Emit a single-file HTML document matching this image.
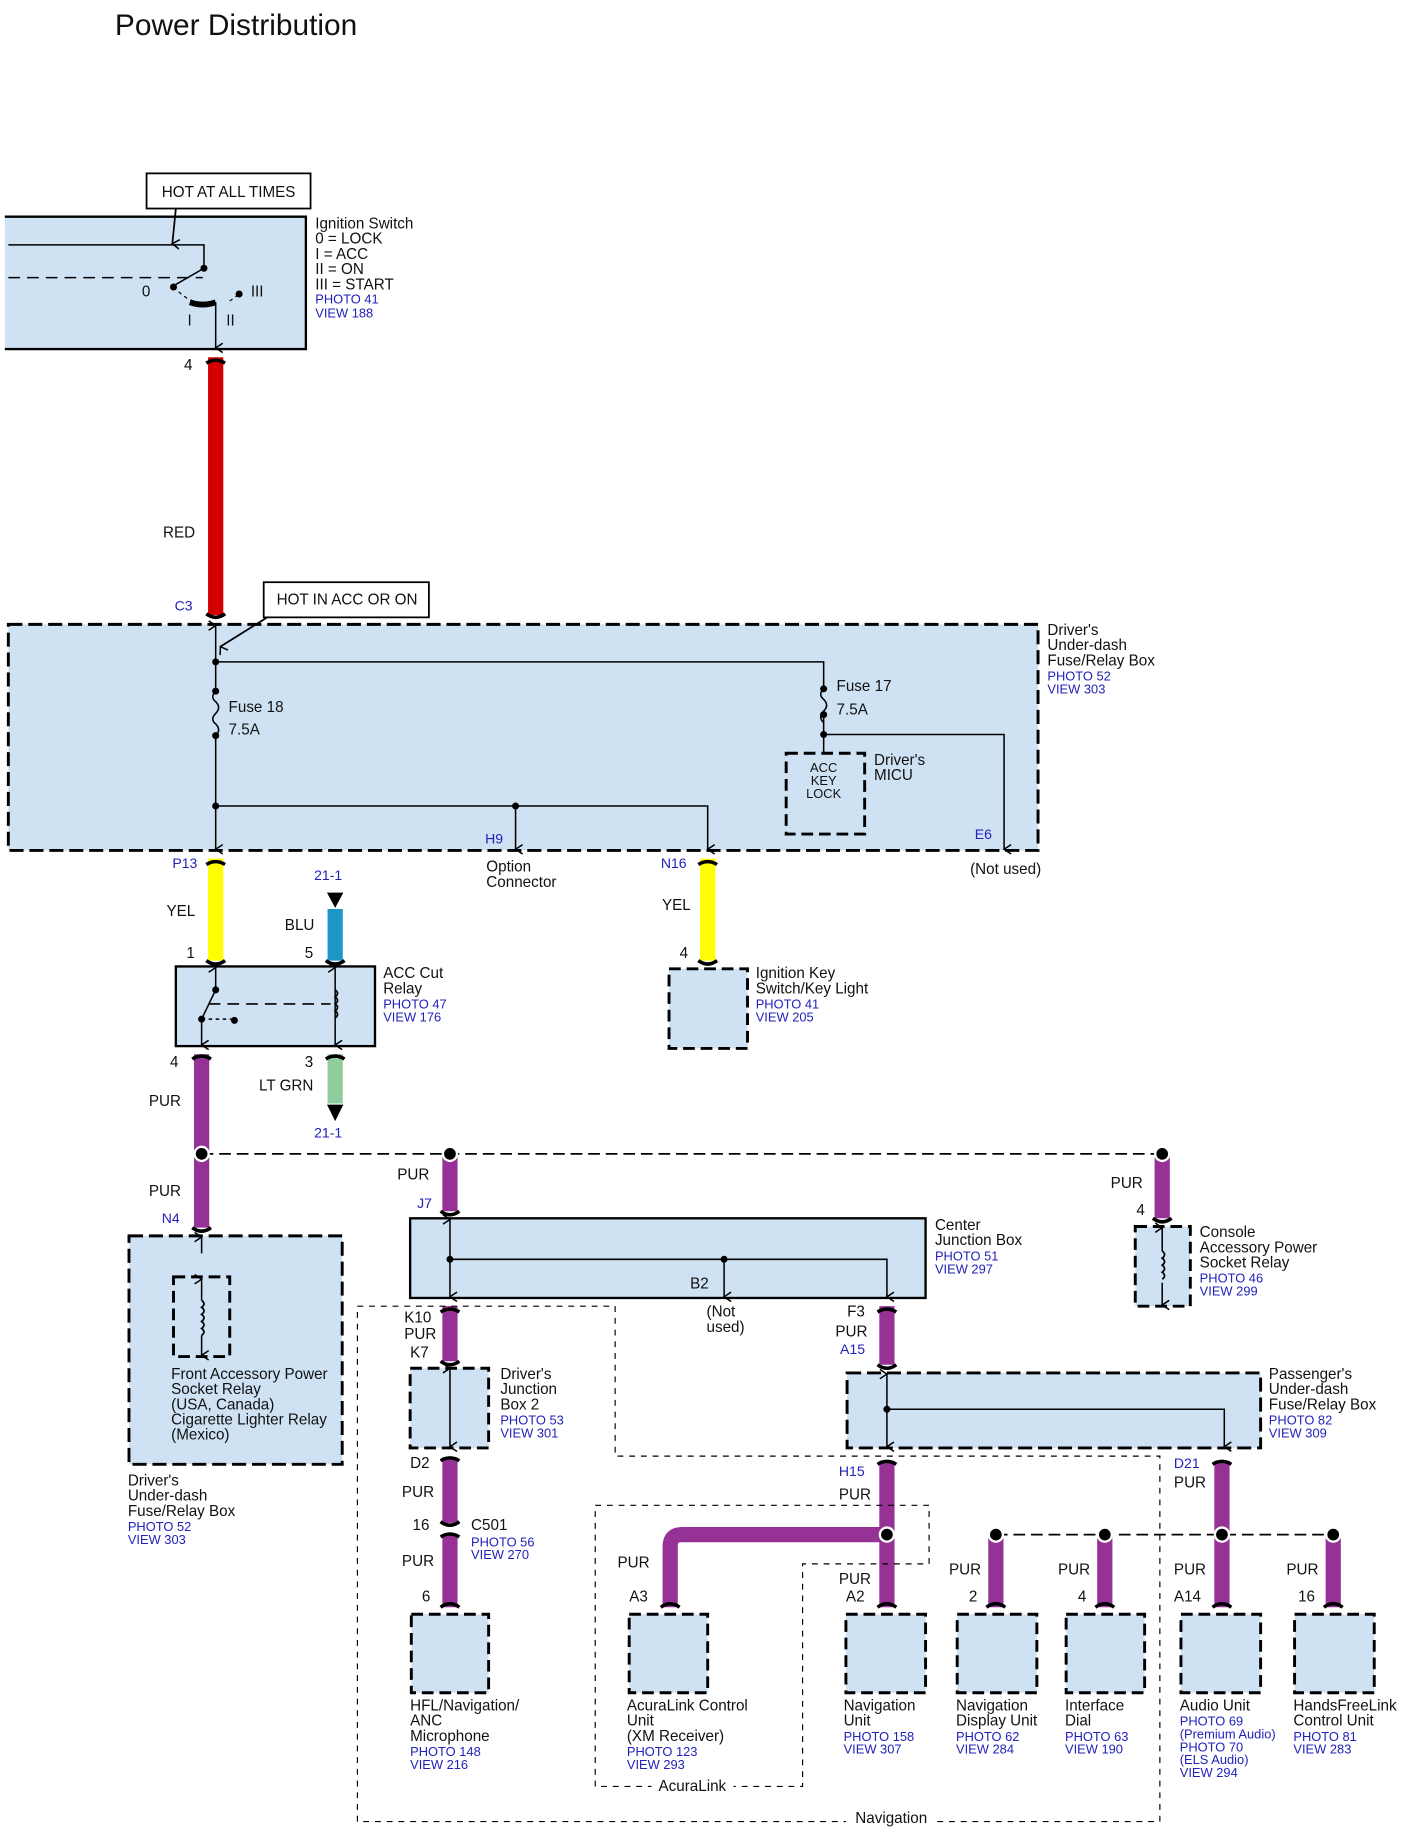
<!DOCTYPE html>
<html><head><meta charset="utf-8"><style>
html,body{margin:0;padding:0;background:#fff;}
svg{display:block}
text{font-family:"Liberation Sans",sans-serif;font-size:13px;fill:#111}
.b{fill:#2222bb;font-size:11px}
.s{font-size:11px}
</style></head><body>
<svg width="1406" height="1838" viewBox="0 0 1200 1569" xmlns="http://www.w3.org/2000/svg">
<defs>
<marker id="ar" markerWidth="10" markerHeight="10" refX="5" refY="9" orient="auto" markerUnits="userSpaceOnUse"><path d="M1,3 L5,9 L9,3" fill="none" stroke="#000" stroke-width="1.3"/></marker>
<marker id="as" markerWidth="10" markerHeight="10" refX="5" refY="9" orient="auto-start-reverse" markerUnits="userSpaceOnUse"><path d="M1,3 L5,9 L9,3" fill="none" stroke="#000" stroke-width="1.3"/></marker>
</defs>
<text x="98" y="30" style="font-size:25.5px">Power Distribution</text>

<g stroke-width="13" fill="none">
<line x1="184" y1="305" x2="184" y2="525" stroke="#d40000"/>
<line x1="184" y1="733" x2="184" y2="820" stroke="#ffff00"/>
<line x1="604" y1="733" x2="604" y2="820" stroke="#ffff00"/>
<line x1="286" y1="776" x2="286" y2="820" stroke="#1e96c8"/>
<line x1="286" y1="900" x2="286" y2="942" stroke="#8fce9c"/>
<g stroke="#963296">
<line x1="172" y1="900" x2="172" y2="1048"/>
<line x1="384" y1="985" x2="384" y2="1034"/>
<line x1="992" y1="985" x2="992" y2="1040"/>
<line x1="384" y1="1115" x2="384" y2="1162"/>
<line x1="384" y1="1244" x2="384" y2="1300"/>
<line x1="384" y1="1310" x2="384" y2="1372"/>
<line x1="757" y1="1115" x2="757" y2="1165"/>
<line x1="757" y1="1247" x2="757" y2="1372"/>
<path d="M757,1310 L582,1310 Q572,1310 572,1320 L572,1372"/>
<line x1="1043" y1="1247" x2="1043" y2="1372"/>
<line x1="850" y1="1310" x2="850" y2="1372"/>
<line x1="943" y1="1310" x2="943" y2="1372"/>
<line x1="1138" y1="1310" x2="1138" y2="1372"/>
</g></g>
<g stroke="#000" stroke-width="3" fill="none">
<path d="M176,310 Q184,305 192,310"/><path d="M176,524 Q184,530 192,524"/>
<path d="M176,738 Q184,733 192,738"/><path d="M176,820 Q184,826 192,820"/>
<path d="M596,738 Q604,733 612,738"/><path d="M596,820 Q604,826 612,820"/>
<path d="M278,820 Q286,826 294,820"/><path d="M278,904 Q286,899 294,904"/>
<path d="M164,904 Q172,899 180,904"/><path d="M164,1048 Q172,1054 180,1048"/>
<path d="M376,1034 Q384,1040 392,1034"/><path d="M984,1040 Q992,1046 1000,1040"/>
<path d="M376,1120 Q384,1115 392,1120"/><path d="M376,1162 Q384,1168 392,1162"/>
<path d="M376,1247 Q384,1242 392,1247"/><path d="M376,1299 Q384,1305 392,1299"/><path d="M376,1312 Q384,1307 392,1312"/>
<path d="M749,1120 Q757,1115 765,1120"/><path d="M749,1165 Q757,1171 765,1165"/>
<path d="M749,1250 Q757,1245 765,1250"/><path d="M1035,1250 Q1043,1245 1051,1250"/>
<path d="M564,1372 Q572,1366 580,1372"/><path d="M749,1372 Q757,1366 765,1372"/><path d="M842,1372 Q850,1366 858,1372"/><path d="M935,1372 Q943,1366 951,1372"/><path d="M1035,1372 Q1043,1366 1051,1372"/><path d="M1130,1372 Q1138,1366 1146,1372"/><path d="M376,1372 Q384,1366 392,1372"/>
</g>

<rect x="125" y="148" width="140" height="30" fill="#fff" stroke="#000" stroke-width="1.5"/>
<text x="138" y="168">HOT AT ALL TIMES</text>
<path d="M4,185 H261 V298 H4" fill="#cfe2f3" stroke="#000" stroke-width="2"/>
<path d="M7,209 H174 V228" fill="none" stroke="#000" stroke-width="1.3"/>
<line x1="150" y1="178" x2="147" y2="208" stroke="#000" stroke-width="1.5" marker-end="url(#ar)"/>
<line x1="7" y1="237" x2="173" y2="237" stroke="#000" stroke-width="1.2" stroke-dasharray="10,6"/>
<circle cx="174" cy="229" r="3"/><line x1="174" y1="229" x2="148" y2="244" stroke="#000" stroke-width="1.3"/>
<circle cx="148" cy="245" r="3"/><circle cx="204" cy="251" r="3"/>
<path d="M148,245 Q158,255 165,257 M196,257 Q200,254 204,251" stroke="#000" fill="none" stroke-dasharray="3,3"/>
<path d="M162,258 Q173,262 184,258" stroke="#000" stroke-width="5" fill="none"/>
<line x1="184" y1="258" x2="184" y2="297" stroke="#000" stroke-width="1.3" marker-end="url(#ar)"/>
<text x="121" y="253">0</text><text x="160" y="278">I</text><text x="193" y="278">II</text><text x="214" y="253">III</text>
<text x="269" y="195">Ignition Switch</text><text x="269" y="208">0 = LOCK</text><text x="269" y="221">I = ACC</text><text x="269" y="234">II = ON</text><text x="269" y="247">III = START</text>
<text x="269" y="259" class="b">PHOTO 41</text><text x="269" y="271" class="b">VIEW 188</text>
<text x="157" y="316">4</text><text x="139" y="459">RED</text><text x="149" y="521" class="b" style="font-size:12px">C3</text>

<rect x="225" y="497" width="141" height="30" fill="#fff" stroke="#000" stroke-width="1.5"/>
<text x="236" y="516">HOT IN ACC OR ON</text>
<rect x="7" y="533" width="879" height="193" fill="#cfe2f3" stroke="#000" stroke-width="2.5" stroke-dasharray="12,5"/>
<line x1="228" y1="527" x2="188" y2="552" stroke="#000" stroke-width="1.5" marker-end="url(#ar)"/>
<g stroke="#000" stroke-width="1.3" fill="none">
<line x1="184" y1="548" x2="184" y2="534" marker-end="url(#ar)"/>
<path d="M184,548 V590 M184,628 V725" marker-end="url(#ar)"/>
<path d="M184,590 q-5,5 0,9 q5,5 0,10 q-5,5 0,9 q5,5 0,10"/>
<path d="M184,565 H703 V588"/><path d="M703,588 q-5,5 0,9 q5,5 0,10 q-5,5 0,10"/>
<path d="M703,610 V643"/><path d="M703,627 H857 V725" marker-end="url(#ar)"/>
<path d="M184,688 H604 V725" marker-end="url(#ar)"/><path d="M440,688 V725" marker-end="url(#ar)"/>
</g>
<g><circle cx="184" cy="565" r="3"/><circle cx="184" cy="590" r="3"/><circle cx="184" cy="628" r="3"/><circle cx="184" cy="688" r="3"/><circle cx="440" cy="688" r="3"/><circle cx="703" cy="588" r="3"/><circle cx="703" cy="610" r="3"/><circle cx="703" cy="627" r="3"/></g>
<text x="195" y="608">Fuse 18</text><text x="195" y="627">7.5A</text>
<text x="714" y="590">Fuse 17</text><text x="714" y="610">7.5A</text>
<rect x="671" y="643" width="67" height="69" fill="none" stroke="#000" stroke-width="2.5" stroke-dasharray="10,5"/>
<text x="703" y="659" class="s" text-anchor="middle">ACC</text><text x="703" y="670" class="s" text-anchor="middle">KEY</text><text x="703" y="681" class="s" text-anchor="middle">LOCK</text>
<text x="746" y="653">Driver's</text><text x="746" y="666">MICU</text>
<text x="894" y="542">Driver's</text><text x="894" y="555">Under-dash</text><text x="894" y="568">Fuse/Relay Box</text>
<text x="894" y="581" class="b">PHOTO 52</text><text x="894" y="592" class="b">VIEW 303</text>
<text x="414" y="720" class="b" style="font-size:12px">H9</text><text x="832" y="716" class="b" style="font-size:12px">E6</text>
<text x="147" y="741" class="b" style="font-size:12px">P13</text><text x="564" y="741" class="b" style="font-size:12px">N16</text>
<text x="415" y="744">Option</text><text x="415" y="757">Connector</text><text x="828" y="746">(Not used)</text>

<text x="142" y="782">YEL</text><text x="159" y="818">1</text>
<text x="268" y="751" class="b" style="font-size:12px">21-1</text>
<path d="M279,762 L293,762 L286,775 Z"/>
<text x="243" y="794">BLU</text><text x="260" y="818">5</text>
<rect x="150" y="825" width="170" height="68" fill="#cfe2f3" stroke="#000" stroke-width="2"/>
<g stroke="#000" stroke-width="1.3" fill="none">
<line x1="184" y1="843" x2="184" y2="826" marker-end="url(#ar)"/>
<line x1="184" y1="845" x2="172" y2="870"/><line x1="172" y1="870" x2="172" y2="892" marker-end="url(#ar)"/>
<path d="M172,870 H200" stroke-dasharray="3,3"/>
<path d="M178,857 H282" stroke-dasharray="10,6"/>
<line x1="286" y1="858" x2="286" y2="826" marker-end="url(#ar)"/><line x1="286" y1="858" x2="286" y2="892" marker-end="url(#ar)"/>
<path d="M286,845 q4,3 0,6 q4,3 0,6 q4,3 0,6 q4,3 0,6" stroke-width="1.5"/>
</g>
<circle cx="184" cy="845" r="3"/><circle cx="172" cy="870" r="3"/><circle cx="200" cy="871" r="3"/>
<text x="327" y="835">ACC Cut</text><text x="327" y="848">Relay</text>
<text x="327" y="861" class="b">PHOTO 47</text><text x="327" y="872" class="b">VIEW 176</text>
<text x="565" y="777">YEL</text><text x="580" y="818">4</text>
<rect x="571" y="827" width="67" height="68" fill="#cfe2f3" stroke="#000" stroke-width="2.5" stroke-dasharray="10,5"/>
<text x="645" y="835">Ignition Key</text><text x="645" y="848">Switch/Key Light</text>
<text x="645" y="861" class="b">PHOTO 41</text><text x="645" y="872" class="b">VIEW 205</text>
<text x="145" y="911">4</text><text x="127" y="944">PUR</text>
<text x="260" y="911">3</text><text x="221" y="931">LT GRN</text>
<path d="M279,943 L293,943 L286,957 Z"/>
<text x="268" y="971" class="b" style="font-size:12px">21-1</text>

<line x1="172" y1="985" x2="992" y2="985" stroke="#000" stroke-width="1.5" stroke-dasharray="10,5"/>
<g stroke="#fff" stroke-width="2"><circle cx="172" cy="985" r="6"/><circle cx="384" cy="985" r="6"/><circle cx="992" cy="985" r="6"/></g>

<text x="127" y="1021">PUR</text><text x="138" y="1044" class="b" style="font-size:12px">N4</text>
<rect x="110" y="1055" width="182" height="195" fill="#cfe2f3" stroke="#000" stroke-width="2.5" stroke-dasharray="12,5"/>
<line x1="172" y1="1070" x2="172" y2="1056" stroke="#000" stroke-width="1.3" marker-end="url(#ar)"/>
<rect x="148" y="1090" width="48" height="68" fill="none" stroke="#000" stroke-width="2.5" stroke-dasharray="10,5"/>
<line x1="172" y1="1110" x2="172" y2="1092" stroke="#000" stroke-width="1.3" marker-end="url(#ar)"/>
<line x1="172" y1="1140" x2="172" y2="1157" stroke="#000" stroke-width="1.3" marker-end="url(#ar)"/>
<path d="M172,1110 q4,3 0,6 q4,3 0,6 q4,3 0,6 q4,3 0,6 q4,3 0,6" stroke="#000" fill="none" stroke-width="1.5"/>
<text x="146" y="1177">Front Accessory Power</text><text x="146" y="1190">Socket Relay</text><text x="146" y="1203">(USA, Canada)</text><text x="146" y="1216">Cigarette Lighter Relay</text><text x="146" y="1229">(Mexico)</text>
<text x="109" y="1268">Driver's</text><text x="109" y="1281">Under-dash</text><text x="109" y="1294">Fuse/Relay Box</text>
<text x="109" y="1307" class="b">PHOTO 52</text><text x="109" y="1318" class="b">VIEW 303</text>

<text x="339" y="1007">PUR</text><text x="356" y="1031" class="b" style="font-size:12px">J7</text>
<rect x="350" y="1040" width="440" height="68" fill="#cfe2f3" stroke="#000" stroke-width="2"/>
<g stroke="#000" stroke-width="1.3" fill="none">
<line x1="384" y1="1075" x2="384" y2="1041" marker-end="url(#ar)"/><line x1="384" y1="1075" x2="384" y2="1107" marker-end="url(#ar)"/>
<path d="M384,1075 H757 V1107" marker-end="url(#ar)"/><path d="M618,1075 V1107" marker-end="url(#ar)"/>
</g>
<circle cx="384" cy="1075" r="3"/><circle cx="618" cy="1075" r="3"/>
<text x="589" y="1100">B2</text><text x="603" y="1124">(Not</text><text x="603" y="1137">used)</text>
<text x="798" y="1050">Center</text><text x="798" y="1063">Junction Box</text>
<text x="798" y="1076" class="b">PHOTO 51</text><text x="798" y="1087" class="b">VIEW 297</text>

<text x="948" y="1014">PUR</text><text x="970" y="1037">4</text>
<rect x="969" y="1047" width="47" height="68" fill="#cfe2f3" stroke="#000" stroke-width="2.5" stroke-dasharray="10,5"/>
<line x1="992" y1="1068" x2="992" y2="1048" stroke="#000" stroke-width="1.3" marker-end="url(#ar)"/>
<line x1="992" y1="1095" x2="992" y2="1114" stroke="#000" stroke-width="1.3" marker-end="url(#ar)"/>
<path d="M992,1068 q4,3 0,6 q4,3 0,6 q4,3 0,6 q4,3 0,6" stroke="#000" fill="none" stroke-width="1.5"/>
<text x="1024" y="1056">Console</text><text x="1024" y="1069">Accessory Power</text><text x="1024" y="1082">Socket Relay</text>
<text x="1024" y="1095" class="b">PHOTO 46</text><text x="1024" y="1106" class="b">VIEW 299</text>

<path d="M305,1115 H525 V1243 H990 V1555 H305 Z" fill="none" stroke="#000" stroke-width="1" stroke-dasharray="5,5"/>
<path d="M508,1285 H793 V1335 H685 V1525 H508 Z" fill="none" stroke="#000" stroke-width="1" stroke-dasharray="5,5"/>
<rect x="722" y="1545" width="75" height="14" fill="#fff"/><text x="730" y="1556">Navigation</text>
<rect x="556" y="1518" width="70" height="14" fill="#fff"/><text x="562" y="1529">AcuraLink</text>

<text x="345" y="1129">K10</text><text x="345" y="1143">PUR</text><text x="350" y="1159">K7</text>
<rect x="350" y="1168" width="67" height="68" fill="#cfe2f3" stroke="#000" stroke-width="2.5" stroke-dasharray="10,5"/>
<line x1="384" y1="1168" x2="384" y2="1235" stroke="#000" stroke-width="1.3" marker-start="url(#as)" marker-end="url(#ar)"/>
<text x="427" y="1177">Driver's</text><text x="427" y="1190">Junction</text><text x="427" y="1203">Box 2</text>
<text x="427" y="1216" class="b">PHOTO 53</text><text x="427" y="1227" class="b">VIEW 301</text>
<text x="350" y="1253">D2</text><text x="343" y="1278">PUR</text><text x="352" y="1306">16</text>
<text x="402" y="1306">C501</text><text x="402" y="1320" class="b">PHOTO 56</text><text x="402" y="1331" class="b">VIEW 270</text>
<text x="343" y="1337">PUR</text><text x="360" y="1367">6</text>

<text x="723" y="1124">F3</text><text x="713" y="1141">PUR</text><text x="717" y="1156" class="b" style="font-size:12px">A15</text>
<rect x="723" y="1172" width="353" height="64" fill="#cfe2f3" stroke="#000" stroke-width="2.5" stroke-dasharray="12,5"/>
<g stroke="#000" stroke-width="1.3" fill="none">
<line x1="757" y1="1203" x2="757" y2="1173" marker-end="url(#ar)"/><line x1="757" y1="1203" x2="757" y2="1235" marker-end="url(#ar)"/>
<path d="M757,1203 H1045 V1235" marker-end="url(#ar)"/>
</g><circle cx="757" cy="1203" r="3"/>
<text x="1083" y="1177">Passenger's</text><text x="1083" y="1190">Under-dash</text><text x="1083" y="1203">Fuse/Relay Box</text>
<text x="1083" y="1216" class="b">PHOTO 82</text><text x="1083" y="1227" class="b">VIEW 309</text>
<text x="716" y="1260" class="b" style="font-size:12px">H15</text><text x="716" y="1280">PUR</text>
<text x="1002" y="1253" class="b" style="font-size:12px">D21</text><text x="1002" y="1270">PUR</text>

<line x1="850" y1="1310" x2="1138" y2="1310" stroke="#000" stroke-width="1.5" stroke-dasharray="10,5"/>
<g stroke="#fff" stroke-width="2"><circle cx="757" cy="1310" r="6"/><circle cx="850" cy="1310" r="6"/><circle cx="943" cy="1310" r="6"/><circle cx="1043" cy="1310" r="6"/><circle cx="1138" cy="1310" r="6"/></g>
<text x="527" y="1338">PUR</text><text x="537" y="1367">A3</text>
<text x="716" y="1352">PUR</text><text x="722" y="1367">A2</text>
<text x="810" y="1344">PUR</text><text x="827" y="1367">2</text>
<text x="903" y="1344">PUR</text><text x="920" y="1367">4</text>
<text x="1002" y="1344">PUR</text><text x="1002" y="1367">A14</text>
<text x="1098" y="1344">PUR</text><text x="1108" y="1367">16</text>

<g fill="#cfe2f3" stroke="#000" stroke-width="2.5" stroke-dasharray="10,5">
<rect x="351" y="1378" width="66" height="67"/><rect x="537" y="1378" width="67" height="67"/><rect x="722" y="1378" width="68" height="67"/>
<rect x="817" y="1378" width="68" height="67"/><rect x="910" y="1378" width="67" height="67"/><rect x="1008" y="1378" width="68" height="67"/><rect x="1105" y="1378" width="68" height="67"/>
</g>
<text x="350" y="1460">HFL/Navigation/</text><text x="350" y="1473">ANC</text><text x="350" y="1486">Microphone</text>
<text x="350" y="1499" class="b">PHOTO 148</text><text x="350" y="1510" class="b">VIEW 216</text>
<text x="535" y="1460">AcuraLink Control</text><text x="535" y="1473">Unit</text><text x="535" y="1486">(XM Receiver)</text>
<text x="535" y="1499" class="b">PHOTO 123</text><text x="535" y="1510" class="b">VIEW 293</text>
<text x="720" y="1460">Navigation</text><text x="720" y="1473">Unit</text>
<text x="720" y="1486" class="b">PHOTO 158</text><text x="720" y="1497" class="b">VIEW 307</text>
<text x="816" y="1460">Navigation</text><text x="816" y="1473">Display Unit</text>
<text x="816" y="1486" class="b">PHOTO 62</text><text x="816" y="1497" class="b">VIEW 284</text>
<text x="909" y="1460">Interface</text><text x="909" y="1473">Dial</text>
<text x="909" y="1486" class="b">PHOTO 63</text><text x="909" y="1497" class="b">VIEW 190</text>
<text x="1007" y="1460">Audio Unit</text>
<text x="1007" y="1473" class="b">PHOTO 69</text><text x="1007" y="1484" class="b">(Premium Audio)</text><text x="1007" y="1495" class="b">PHOTO 70</text><text x="1007" y="1506" class="b">(ELS Audio)</text><text x="1007" y="1517" class="b">VIEW 294</text>
<text x="1104" y="1460">HandsFreeLink</text><text x="1104" y="1473">Control Unit</text>
<text x="1104" y="1486" class="b">PHOTO 81</text><text x="1104" y="1497" class="b">VIEW 283</text>
</svg>
</body></html>
